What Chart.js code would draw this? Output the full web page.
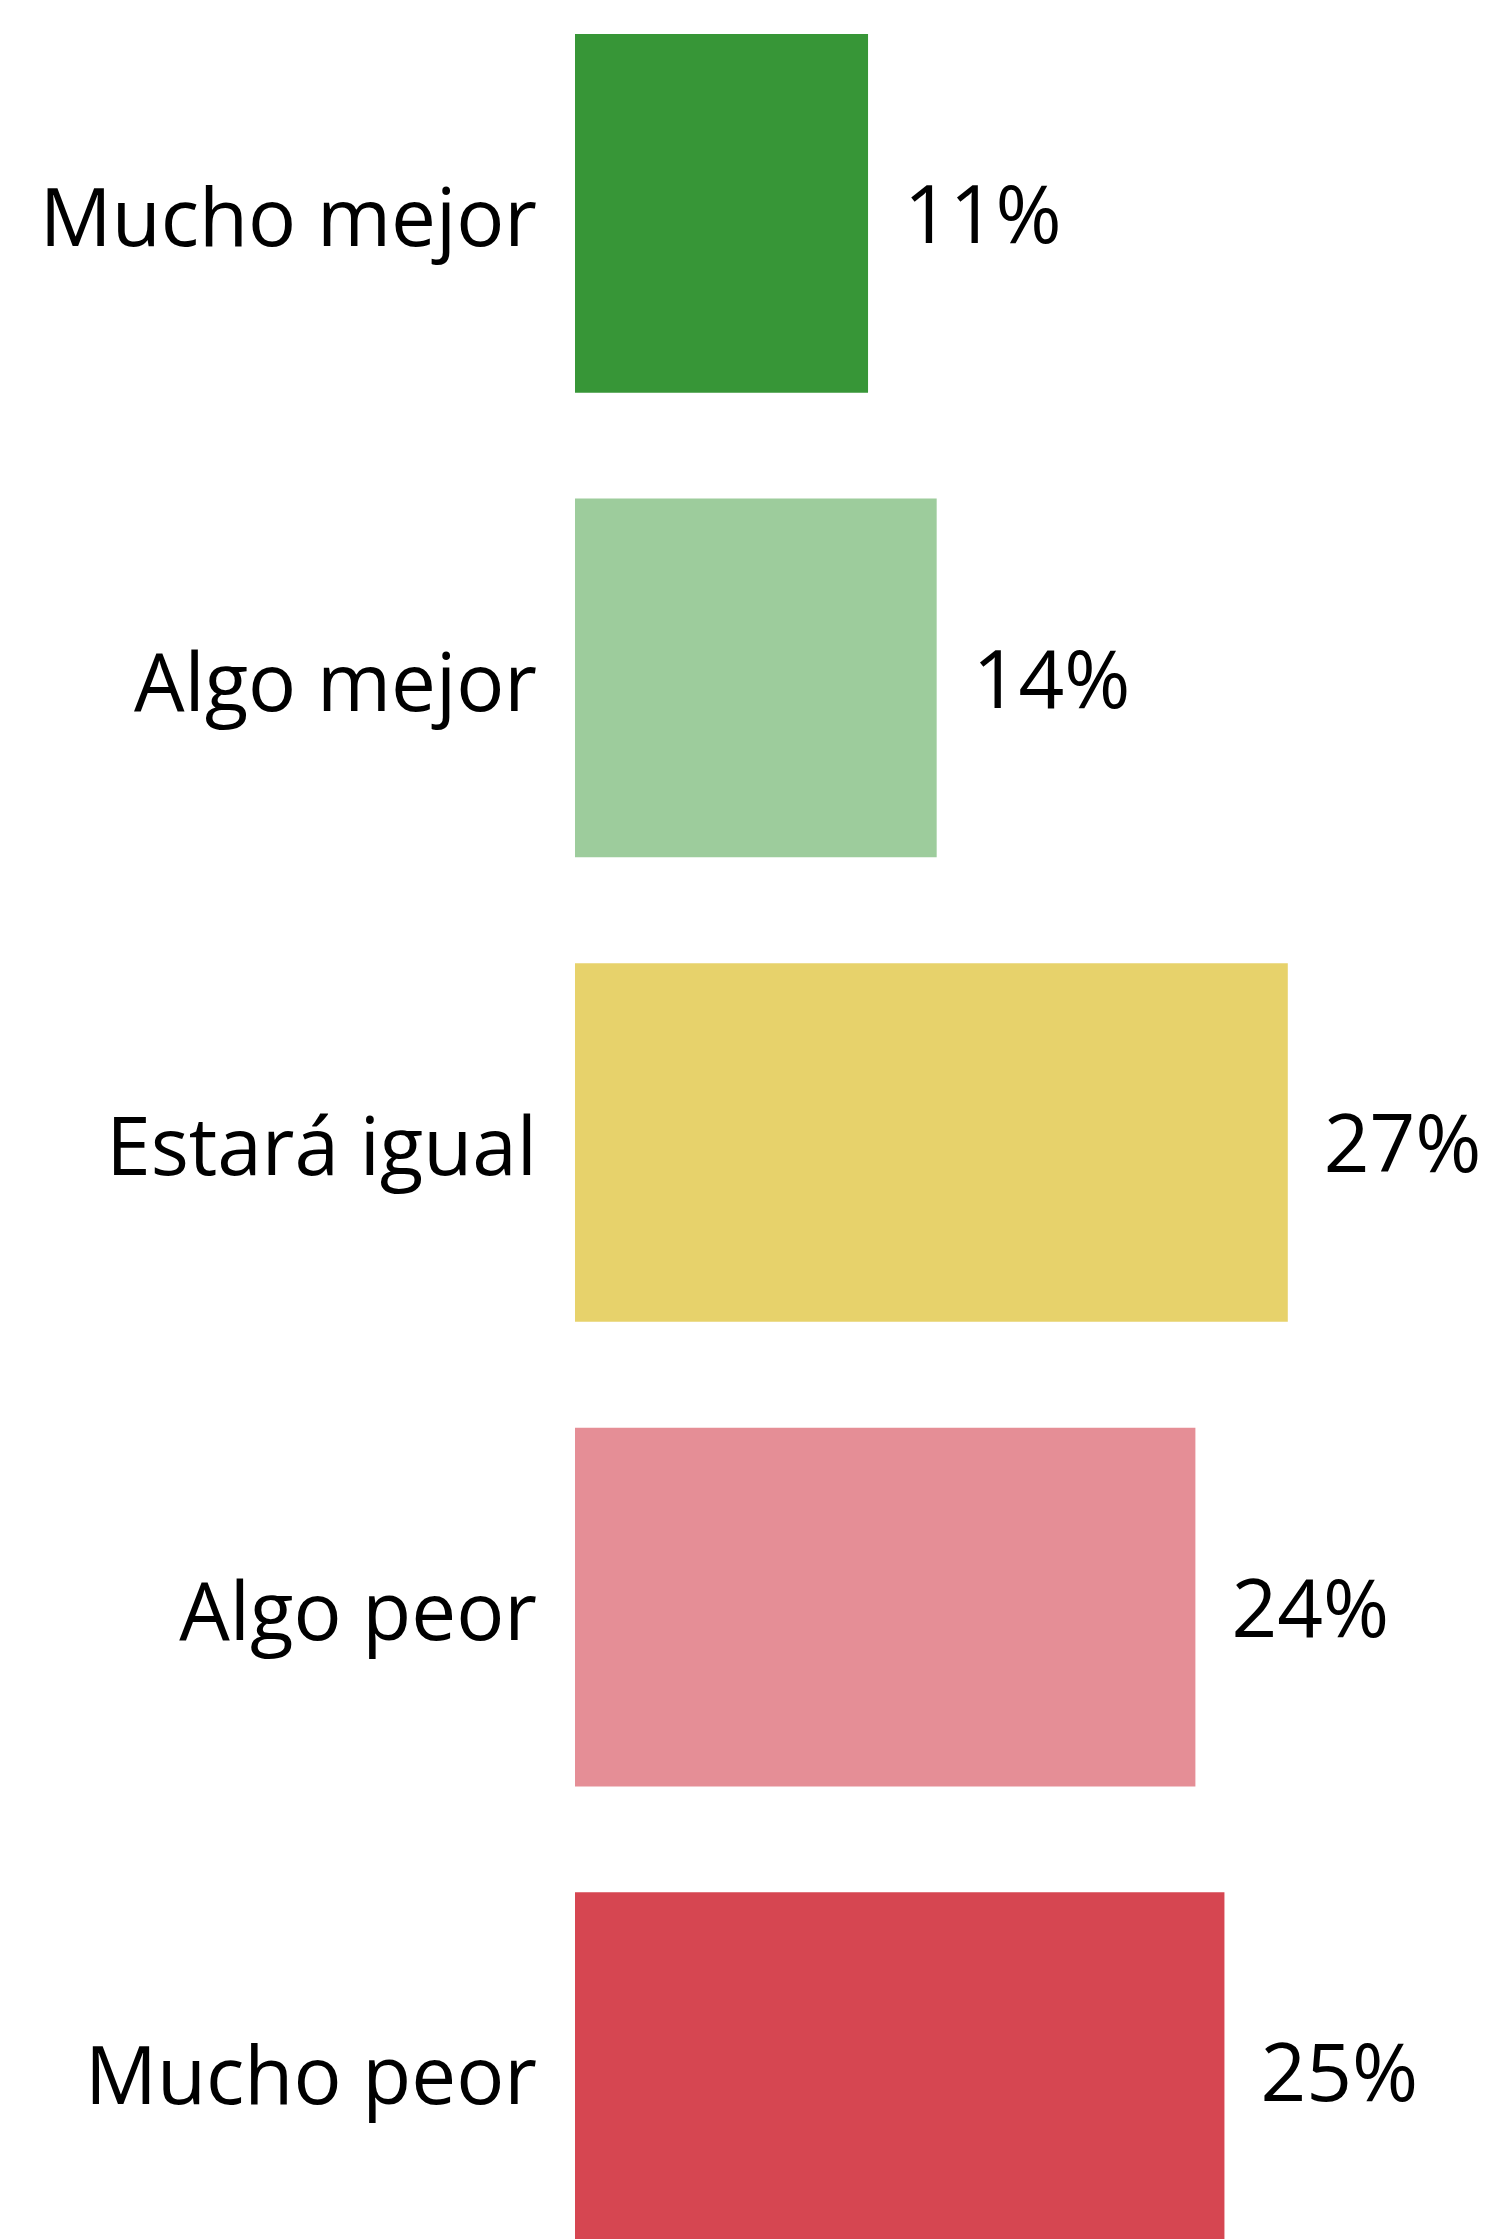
<!DOCTYPE html>
<html>
<head>
<meta charset="utf-8">
<script src="https://cdn.jsdelivr.net/npm/chart.js@4.4.1/dist/chart.umd.min.js"></script>
<style>
    html, body { margin: 0; padding: 0; background: #ffffff; overflow: hidden; }
    body { width: 1499px; height: 2239px; position: relative; }
    /* the chart runs past the top and bottom of the picture, as in the reference;
       86px extra each side is taken by the y-axis label padding */
    #wrap { position: absolute; left: 0; top: -105px; width: 1499px; height: 2495px; }
</style>
</head>
<body>
<div id="wrap"><canvas id="chart"></canvas></div>
<script>
// ============================================================================
// Data
// ============================================================================
const categories = ['Mucho mejor', 'Algo mejor', 'Estará igual', 'Algo peor', 'Mucho peor'];
const values = [11.1, 13.7, 27.0, 23.5, 24.6];
const valueLabels = ['11%', '14%', '27%', '24%', '25%'];
const barColors = ['#379637', '#9dcc9c', '#e7d26b', '#e58e96', '#d64651'];

const FONT = '"Open Sans", "Noto Sans", sans-serif';

// ============================================================================
// Plugin: value labels at the end of each bar
// ============================================================================
const valueLabelPlugin = {
    id: 'valueLabels',
    afterDatasetsDraw(chart) {
        const ctx = chart.ctx;
        const meta = chart.getDatasetMeta(0);
        ctx.save();
        ctx.font = '80px ' + FONT;
        ctx.fillStyle = '#000000';
        ctx.textAlign = 'left';
        ctx.textBaseline = 'middle';
        meta.data.forEach((bar, i) => {
            ctx.fillText(valueLabels[i], bar.x + 36, bar.y + 7);
        });
        ctx.restore();
    }
};

// ============================================================================
// Chart
// ============================================================================
new Chart(document.getElementById('chart').getContext('2d'), {
    type: 'bar',
    data: {
        labels: categories,
        datasets: [{
            data: values,
            backgroundColor: barColors,
            borderWidth: 0,
            barPercentage: 0.772,
            categoryPercentage: 1
        }]
    },
    options: {
        indexAxis: 'y',
        responsive: true,
        maintainAspectRatio: false,
        animation: false,
        layout: { padding: 0 },
        plugins: {
            legend: { display: false },
            tooltip: { enabled: false }
        },
        scales: {
            x: {
                display: false,
                min: 0,
                max: 35
            },
            y: {
                grid: { display: false, drawTicks: false },
                border: { display: false },
                ticks: {
                    color: '#000000',
                    padding: 38,
                    labelOffset: 10,
                    font: { family: FONT, size: 80 }
                },
                afterFit(scale) {
                    scale.width = 575;
                }
            }
        }
    },
    plugins: [valueLabelPlugin]
});
</script>
</body>
</html>
